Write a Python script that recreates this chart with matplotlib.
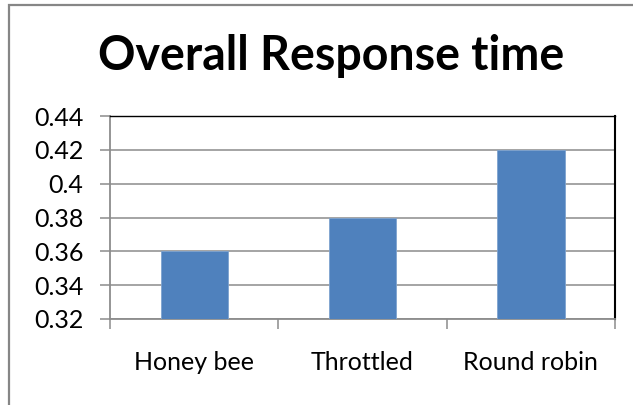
import matplotlib
matplotlib.use("Agg")
import matplotlib.pyplot as plt
from matplotlib.patches import Rectangle

categories = ["Honey bee", "Throttled", "Round robin"]
values = [0.36, 0.38, 0.42]
yticks = [0.32, 0.34, 0.36, 0.38, 0.40, 0.42, 0.44]
ytick_labels = ["0.32", "0.34", "0.36", "0.38", "0.4", "0.42", "0.44"]
title = "Overall Response time"

title_font = "Lato"
label_font = "Lato"

W, H = 633, 405
fig = plt.figure(figsize=(W / 100, H / 100), dpi=100)
fig.patch.set_facecolor("white")

# outer chart border (left and top visible)
fig.add_artist(Rectangle((8.5 / W, -0.2), 1.5, (400.5 / H) + 0.2,
                         transform=fig.transFigure, fill=False,
                         edgecolor="#868686", linewidth=1.6, clip_on=False))

ax = fig.add_axes([110 / W, (H - 319) / H, (615 - 110) / W, (319 - 116) / H])
x = list(range(len(categories)))
ax.bar(x, values, width=0.4, color="#4F81BD", edgecolor="#7EA3CF",
       linewidth=0.6, zorder=3, bottom=0)
ax.set_xlim(-0.5, len(categories) - 0.5)
ax.set_ylim(0.32, 0.44)

ax.set_yticks(yticks)
ax.set_yticklabels(ytick_labels, fontfamily=label_font, fontsize=18)
ax.yaxis.grid(True, color="#8C8C8C", linewidth=1.1, zorder=0)
ax.set_axisbelow(True)

ax.set_xticks(x)
ax.set_xticklabels(categories, fontfamily=label_font, fontsize=18)
ax.set_xticks([i - 0.5 for i in range(len(categories) + 1)], minor=True)
ax.tick_params(axis="x", which="major", length=0, pad=23)
ax.tick_params(axis="x", which="minor", length=7, width=1.1, color="#8C8C8C", direction="out")
ax.tick_params(axis="y", length=7, width=1.1, color="#8C8C8C", direction="out", pad=12)

for s in ["left", "bottom"]:
    ax.spines[s].set_color("#8C8C8C")
    ax.spines[s].set_linewidth(1.3)
ax.spines["top"].set_color("#000000")
ax.spines["top"].set_linewidth(1.0)
ax.spines["right"].set_color("#000000")
ax.spines["right"].set_linewidth(1.5)

fig.text(331 / W, (H - 70) / H, title, ha="center", va="baseline",
         fontfamily=title_font, fontweight="bold", fontsize=33.5)

fig.savefig("out.png", dpi=100)
